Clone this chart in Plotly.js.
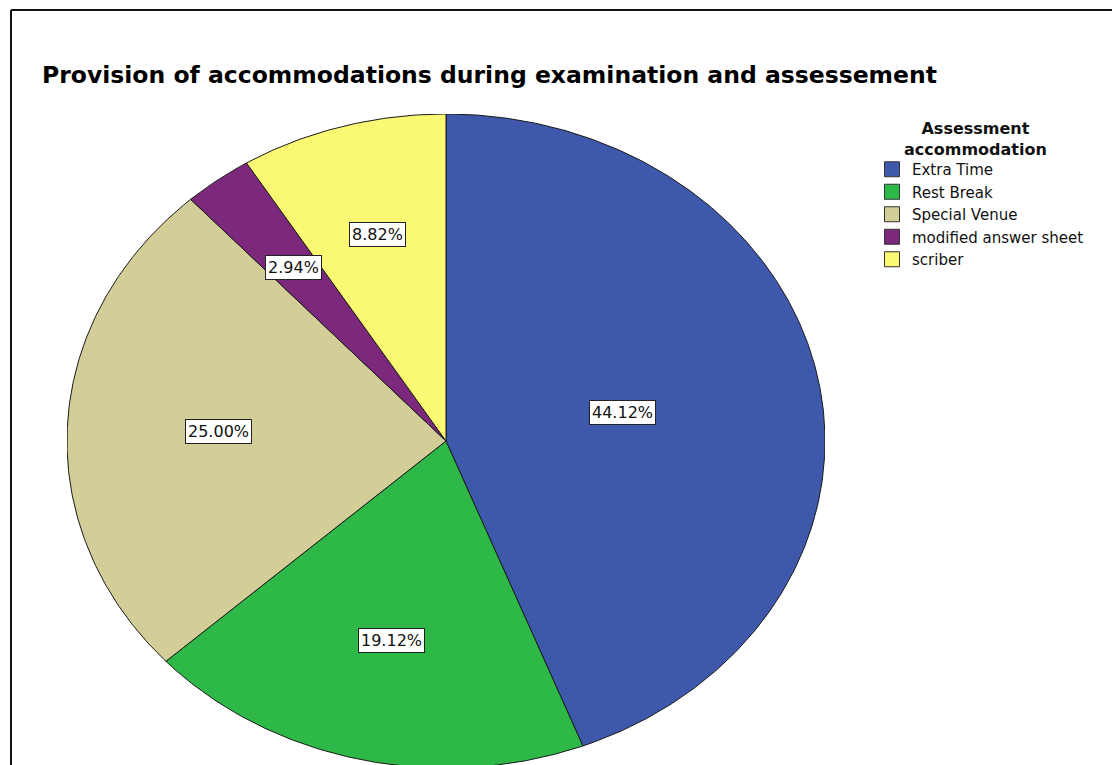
<!DOCTYPE html>
<html>
<head>
<meta charset="utf-8">
<script src="https://cdn.plot.ly/plotly-3.0.1.min.js"></script>
<style>
  html, body { margin: 0; padding: 0; background: #fff; }
  #chart { width: 1112px; height: 765px; }
</style>
</head>
<body>
<div id="chart"></div>
<script>
// ---- Data ----
const categories = ['Extra Time', 'Rest Break', 'Special Venue', 'modified answer sheet', 'scriber'];
const counts = [30, 13, 17, 2, 6];
const chartTitle = 'Provision of accommodations during examination and assessement';
const legendTitle = 'Assessment<br>accommodation';

// ---- Styles ----
const sliceColors = ['#3E58AC', '#2EB848', '#D3CE97', '#7C287D', '#FBF873'];
const W = 1112, H = 765;
const CX = 446, CY = 441, RX = 379, RY = 327; // pixel geometry of the elliptical pie
const FONT = 'DejaVu Sans, Liberation Sans, Arial, sans-serif';

const total = counts.reduce((a, b) => a + b, 0);
const traces = [];
const annotations = [];
let start = 0;
categories.forEach((cat, i) => {
  const frac = counts[i] / total;
  const a0 = start * 2 * Math.PI, a1 = (start + frac) * 2 * Math.PI;
  const xs = [0], ys = [0];
  const steps = Math.max(4, Math.ceil(frac * 720));
  for (let k = 0; k <= steps; k++) {
    const a = a0 + (a1 - a0) * k / steps;
    xs.push(Math.sin(a)); ys.push(Math.cos(a));
  }
  xs.push(0); ys.push(0);
  traces.push({
    type: 'scatter', mode: 'lines', x: xs, y: ys, fill: 'toself',
    fillcolor: sliceColors[i], line: { color: '#1a1a1a', width: 1 },
    showlegend: false, hoverinfo: 'skip'
  });
  // label at sector centroid
  const half = (a1 - a0) / 2, mid = a0 + half;
  const r = 2 * Math.sin(half) / (3 * half);
  annotations.push({
    x: r * Math.sin(mid), y: r * Math.cos(mid), xref: 'x', yref: 'y',
    text: (frac * 100).toFixed(2) + '%', showarrow: false,
    font: { family: FONT, size: 16, color: '#111' },
    bgcolor: '#ffffff', bordercolor: '#222', borderwidth: 1, borderpad: 2
  });
  start += frac;
});
// legend title (centered above the legend entries)
annotations.push({
  x: 975 / W, y: 1 - 117 / H, xref: 'paper', yref: 'paper', xanchor: 'center', yanchor: 'top',
  text: '<b>' + legendTitle + '</b>', showarrow: false, align: 'center',
  font: { family: FONT, size: 16, color: '#111' }
});
// legend entries
categories.forEach((cat, i) => {
  traces.push({
    type: 'scatter', mode: 'markers', x: [null], y: [null], name: cat,
    marker: { symbol: 'square', size: 15, color: sliceColors[i], line: { color: '#333', width: 1 } },
    hoverinfo: 'skip'
  });
});

const yBottomData = (CY - H) / RY;
const layout = {
  width: W, height: H,
  margin: { l: 0, r: 0, t: 0, b: 0 },
  paper_bgcolor: '#fff', plot_bgcolor: 'rgba(0,0,0,0)',
  title: {
    text: '<b>' + chartTitle + '</b>', x: 42 / W, xref: 'container', xanchor: 'left',
    y: 1 - 75 / H, yref: 'container', yanchor: 'middle',
    font: { family: FONT, size: 23.5, color: '#000' }
  },
  xaxis: { domain: [(CX - RX) / W, (CX + RX) / W], range: [-1, 1], visible: false, fixedrange: true },
  yaxis: { domain: [0, 1 - (CY - RY) / H], range: [yBottomData, 1], visible: false, fixedrange: true },
  showlegend: true,
  legend: {
    x: 872 / W, xanchor: 'left', y: 1 - 153 / H, yanchor: 'top',
    bgcolor: 'rgba(0,0,0,0)', borderwidth: 0,
    font: { family: FONT, size: 15, color: '#111' },
    tracegroupgap: 0
  },
  annotations: annotations,
  shapes: [
    { type: 'line', xref: 'paper', yref: 'paper', x0: 11 / W, x1: 11 / W, y0: 0, y1: 1 - 10 / H, line: { color: '#111', width: 2 } },
    { type: 'line', xref: 'paper', yref: 'paper', x0: 11 / W, x1: 1, y0: 1 - 10 / H, y1: 1 - 10 / H, line: { color: '#111', width: 2 } }
  ]
};

Plotly.newPlot('chart', traces, layout, { displayModeBar: false, staticPlot: true });
</script>
</body>
</html>
